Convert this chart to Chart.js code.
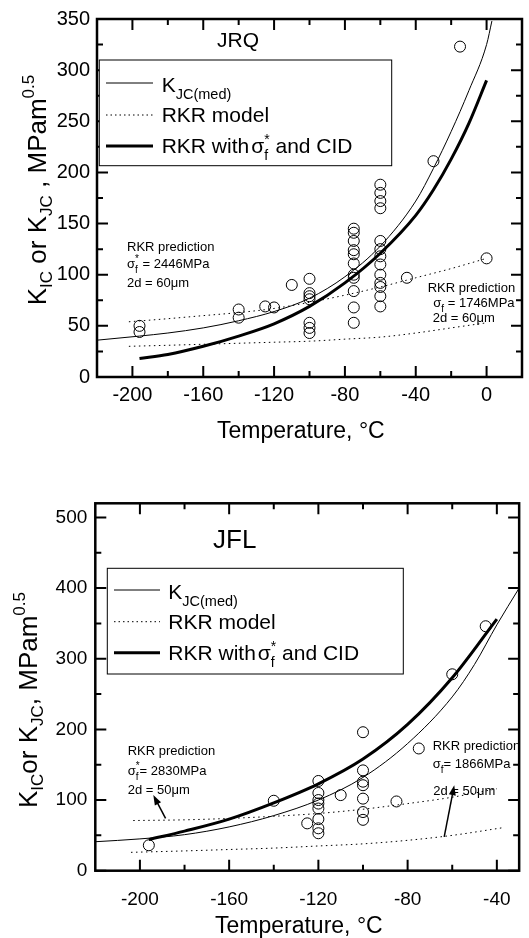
<!DOCTYPE html>
<html>
<head>
<meta charset="utf-8">
<script src="https://cdn.jsdelivr.net/npm/chart.js@4.4.1/dist/chart.umd.min.js"></script>
<style>
body { margin: 0; background: #fff; }
canvas { display: block; }
</style>
</head>
<body>
<canvas id="jrq" width="529" height="469"></canvas>
<canvas id="jfl" width="529" height="469"></canvas>
<script>
const FONT = '"Liberation Sans", Arial, sans-serif';

// JRQ data points
const jrqTemp = [-196, -196, -140, -140, -125, -120, -110,
    -100, -100, -100, -100, -100, -100, -100,
    -75, -75, -75, -75, -75, -75, -75, -75, -75, -75, -75,
    -60, -60, -60, -60, -60, -60, -60, -60, -60, -60, -60, -60, -60,
    -45, -30, -15, 0];
const jrqK = [50, 44, 66, 58, 69, 68, 90,
    96, 82, 79, 76, 53, 48, 43,
    145, 141, 133, 124, 120, 111, 100, 97, 84, 68, 53,
    188, 180, 172, 165, 133, 125, 118, 110, 100, 92, 88, 79, 69,
    97, 211, 323, 116];
// JRQ curves
const jrqMedT = [-220, -196, -180, -160, -140, -120, -100, -80, -60, -40, -30, -20, -10, 0, 3];
const jrqMedK = [36, 40, 43, 48, 55, 64, 77, 98, 128, 172, 204, 240, 280, 325, 348];
const jrqCidT = [-196, -180, -160, -140, -120, -100, -80, -60, -40, -30, -20, -10, 0];
const jrqCidK = [18, 22, 30, 40, 52, 69, 92, 121, 158, 183, 213, 248, 290];
const jrqRkrT = [-202, -180, -160, -140, -120, -100, -80, -60, -40, -20, 0];
const jrqRkrHi = [54, 57, 60, 63, 67, 73, 80, 88, 97, 106, 116];
const jrqRkrLo = [30, 31, 32, 33, 34, 35, 37, 39, 43, 48, 53];
const jrqXTicks = [-200, -160, -120, -80, -40, 0];
const jrqYTicks = [0, 50, 100, 150, 200, 250, 300, 350];

// JFL data points
const jflTemp = [-196, -140, -125,
    -120, -120, -120, -120, -120, -120, -120, -120,
    -110, -100, -100, -100, -100, -100, -100, -100,
    -85, -75, -60, -45];
const jflK = [36, 99, 67,
    127, 110, 100, 95, 88, 73, 60, 53,
    107, 196, 142, 126, 121, 102, 83, 72,
    98, 173, 278, 346];
// JFL curves
const jflMedT = [-220, -200, -180, -160, -140, -120, -100, -80, -60, -50, -40, -30];
const jflMedK = [41, 45, 51, 62, 78, 100, 132, 180, 246, 292, 348, 400];
const jflCidT = [-196, -180, -160, -140, -120, -100, -80, -60, -40];
const jflCidK = [44, 56, 73, 96, 123, 158, 207, 273, 356];
const jflHiT = [-203, -180, -160, -140, -120, -100, -80, -60, -40];
const jflRkrHi = [71, 72, 74, 77, 81, 87, 95, 104, 116];
const jflLoT = [-204, -180, -160, -140, -120, -100, -80, -60, -37];
const jflRkrLo = [26, 28, 30, 32, 35, 38, 43, 50, 61];
const jflXTicks = [-200, -160, -120, -80, -40];
const jflYTicks = [0, 100, 200, 300, 400, 500];

function xy(xs, ys) {
    return xs.map((v, i) => ({ x: v, y: ys[i] }));
}

function lineSet(xs, ys, width, dash) {
    return {
        data: xy(xs, ys), showLine: true, borderColor: '#000', borderWidth: width,
        borderDash: dash || [], pointRadius: 0, cubicInterpolationMode: 'monotone', fill: false
    };
}

function pointSet(xs, ys) {
    return {
        data: xy(xs, ys), showLine: false, pointRadius: 5.5, pointBorderWidth: 1,
        pointBorderColor: '#000', pointBackgroundColor: 'rgba(0,0,0,0)'
    };
}

function drawParts(ctx, x, y, parts, measureOnly) {
    for (const p of parts) {
        ctx.font = p.s + 'px ' + FONT;
        if (p.sup !== undefined || p.sub !== undefined) {
            let w = 0;
            if (p.sup) { if (!measureOnly) ctx.fillText(p.sup, x, y + p.supDy); w = Math.max(w, ctx.measureText(p.sup).width); }
            if (p.sub) { if (!measureOnly) ctx.fillText(p.sub, x, y + p.subDy); w = Math.max(w, ctx.measureText(p.sub).width); }
            x += w;
        } else {
            x += p.dx || 0;
            if (!measureOnly) ctx.fillText(p.t, x, y + (p.dy || 0));
            x += ctx.measureText(p.t).width;
        }
    }
    return x;
}

// frame, inward ticks, legend, labels
const framePlugin = {
    id: 'frame',
    afterDraw(chart, args, o) {
        const ctx = chart.ctx, a = chart.chartArea, xs = chart.scales.x, ys = chart.scales.y;
        ctx.save();
        ctx.strokeStyle = '#000';
        ctx.fillStyle = '#000';
        ctx.setLineDash([]);
        ctx.lineWidth = 2.5;
        ctx.strokeRect(a.left, a.top, a.right - a.left, a.bottom - a.top);

        const minors = (arr, lo, hi) => {
            const st = arr[1] - arr[0], out = [];
            for (let v = arr[0] - st / 2; v < hi - 0.01; v += st) if (v > lo + 0.01) out.push(v);
            return out;
        };
        ctx.lineWidth = 2;
        ctx.beginPath();
        const tickX = (v, len) => {
            const p = xs.getPixelForValue(v);
            ctx.moveTo(p, a.bottom); ctx.lineTo(p, a.bottom - len);
            ctx.moveTo(p, a.top); ctx.lineTo(p, a.top + len);
        };
        const tickY = (v, len) => {
            const p = ys.getPixelForValue(v);
            ctx.moveTo(a.left, p); ctx.lineTo(a.left + len, p);
            ctx.moveTo(a.right, p); ctx.lineTo(a.right - len, p);
        };
        o.xTicks.forEach(v => tickX(v, 11));
        minors(o.xTicks, xs.min, xs.max).forEach(v => tickX(v, 6));
        o.yTicks.forEach(v => tickY(v, 11));
        minors(o.yTicks, ys.min, ys.max).forEach(v => tickY(v, 6));
        ctx.stroke();

        // legend
        const lg = o.legend;
        ctx.fillStyle = '#fff';
        ctx.fillRect(lg.box[0], lg.box[1], lg.box[2], lg.box[3]);
        ctx.lineWidth = 1;
        ctx.strokeRect(lg.box[0], lg.box[1], lg.box[2], lg.box[3]);
        ctx.fillStyle = '#000';
        for (const it of lg.items) {
            ctx.beginPath();
            ctx.lineWidth = it.w;
            ctx.setLineDash(it.dash);
            ctx.moveTo(lg.lineX[0], it.ly);
            ctx.lineTo(lg.lineX[1], it.ly);
            ctx.stroke();
            ctx.setLineDash([]);
            drawParts(ctx, lg.textX, it.ty, it.parts);
        }

        // plain labels
        for (const t of o.texts) drawParts(ctx, t.x, t.y, t.parts);

        // rotated y title
        const yt = o.yTitle;
        ctx.save();
        ctx.translate(yt.x, yt.y);
        ctx.rotate(-Math.PI / 2);
        const w = drawParts(ctx, 0, 0, yt.parts, true);
        drawParts(ctx, -w / 2, 0, yt.parts);
        ctx.restore();

        // arrows
        ctx.lineWidth = 1.5;
        for (const ar of o.arrows || []) {
            const fx = xs.getPixelForValue(ar.from[0]), fy = ys.getPixelForValue(ar.from[1]);
            const tx = xs.getPixelForValue(ar.to[0]), ty = ys.getPixelForValue(ar.to[1]);
            const ang = Math.atan2(ty - fy, tx - fx);
            ctx.beginPath();
            ctx.moveTo(fx, fy);
            ctx.lineTo(tx - 6 * Math.cos(ang), ty - 6 * Math.sin(ang));
            ctx.stroke();
            ctx.beginPath();
            ctx.moveTo(tx, ty);
            ctx.lineTo(tx - 10 * Math.cos(ang) + 3.5 * Math.sin(ang), ty - 10 * Math.sin(ang) - 3.5 * Math.cos(ang));
            ctx.lineTo(tx - 10 * Math.cos(ang) - 3.5 * Math.sin(ang), ty - 10 * Math.sin(ang) + 3.5 * Math.cos(ang));
            ctx.closePath();
            ctx.fill();
        }
        ctx.restore();
    }
};

function legendItems(textY, lineY) {
    return [
        { ly: lineY[0], w: 1, dash: [], ty: textY[0],
          parts: [{ t: 'K', s: 21 }, { t: 'JC(med)', s: 14.5, dy: 7 }] },
        { ly: lineY[1], w: 1, dash: [1.5, 3], ty: textY[1],
          parts: [{ t: 'RKR model', s: 21 }] },
        { ly: lineY[2], w: 3, dash: [], ty: textY[2],
          parts: [{ t: 'RKR with', s: 21 }, { t: 'σ', s: 21, dx: 2 },
                  { sup: '*', sub: 'f', s: 14, supDy: -9, subDy: 7 }, { t: ' and CID', s: 21 }] }
    ];
}

function makeChart(id, cfg) {
    return new Chart(document.getElementById(id), {
        type: 'scatter',
        data: { datasets: cfg.datasets },
        options: {
            responsive: false,
            animation: false,
            devicePixelRatio: 1,
            events: [],
            layout: { padding: cfg.padding },
            plugins: { legend: { display: false }, tooltip: { enabled: false }, frame: cfg.frame },
            scales: {
                x: {
                    type: 'linear', min: cfg.xRange[0], max: cfg.xRange[1],
                    afterBuildTicks: s => { s.ticks = cfg.frame.xTicks.map(v => ({ value: v })); },
                    afterFit: s => { s.height = cfg.xHeight; },
                    grid: { display: false, drawTicks: false },
                    border: { display: false },
                    ticks: { color: '#000', font: { size: cfg.tickSize, family: FONT }, padding: cfg.xPad,
                             maxRotation: 0, autoSkip: false, callback: v => String(v) }
                },
                y: {
                    type: 'linear', min: cfg.yRange[0], max: cfg.yRange[1],
                    afterBuildTicks: s => { s.ticks = cfg.frame.yTicks.map(v => ({ value: v })); },
                    afterFit: s => { s.width = cfg.yWidth; },
                    grid: { display: false, drawTicks: false },
                    border: { display: false },
                    ticks: { color: '#000', font: { size: cfg.tickSize, family: FONT }, padding: cfg.yPad,
                             autoSkip: false, callback: v => String(v) }
                }
            }
        },
        plugins: [framePlugin]
    });
}

makeChart('jrq', {
    datasets: [
        lineSet(jrqRkrT, jrqRkrHi, 1, [1.5, 3.5]),
        lineSet(jrqRkrT, jrqRkrLo, 1, [1.5, 3.5]),
        lineSet(jrqMedT, jrqMedK, 1),
        lineSet(jrqCidT, jrqCidK, 3),
        pointSet(jrqTemp, jrqK)
    ],
    padding: { top: 15, right: 7, left: 0, bottom: 0 },
    xRange: [-220, 20], yRange: [0, 350],
    xHeight: 92, yWidth: 97, tickSize: 20, xPad: 6, yPad: 7,
    frame: {
        xTicks: jrqXTicks, yTicks: jrqYTicks,
        legend: {
            box: [99.3, 60, 292.4, 105.7], lineX: [106, 153], textX: 161.7,
            items: legendItems([92, 122, 153], [83, 115, 146])
        },
        texts: [
            { x: 217, y: 46.7, parts: [{ t: 'JRQ', s: 21 }] },
            { x: 217, y: 438.3, parts: [{ t: 'Temperature, °C', s: 23 }] },
            { x: 127, y: 250.7, parts: [{ t: 'RKR prediction', s: 13 }] },
            { x: 127, y: 268.3, parts: [{ t: 'σ', s: 13 }, { sup: '*', sub: 'f', s: 10, supDy: -6, subDy: 5 }, { t: ' = 2446MPa', s: 13 }] },
            { x: 127, y: 286.7, parts: [{ t: '2d = 60μm', s: 13 }] },
            { x: 427.7, y: 291.7, parts: [{ t: 'RKR prediction', s: 13 }] },
            { x: 433.3, y: 306.7, parts: [{ t: 'σ', s: 13 }, { sub: 'f', s: 10, subDy: 5 }, { t: ' = 1746MPa', s: 13 }] },
            { x: 432.7, y: 321.7, parts: [{ t: '2d = 60μm', s: 13 }] }
        ],
        yTitle: {
            x: 46, y: 190,
            parts: [{ t: 'K', s: 26 }, { t: 'IC', s: 17, dy: 6 }, { t: ' or K', s: 26 }, { t: 'JC', s: 17, dy: 6 },
                    { t: ' , MPam', s: 26 }, { t: '0.5', s: 17, dy: -12 }]
        }
    }
});

makeChart('jfl', {
    datasets: [
        lineSet(jflHiT, jflRkrHi, 1, [1.5, 3.5]),
        lineSet(jflLoT, jflRkrLo, 1, [1.5, 3.5]),
        lineSet(jflMedT, jflMedK, 1),
        lineSet(jflCidT, jflCidK, 3),
        pointSet(jflTemp, jflK)
    ],
    padding: { top: 34.3, right: 8, left: 0, bottom: 0 },
    xRange: [-220, -30], yRange: [0, 520],
    xHeight: 67.3, yWidth: 95.3, tickSize: 19, xPad: 18, yPad: 8,
    frame: {
        xTicks: jflXTicks, yTicks: jflYTicks,
        legend: {
            box: [107.3, 99.3, 296, 105.7], lineX: [114, 160], textX: 168.3,
            items: legendItems([130, 159.7, 190.7], [121, 152.7, 183.7])
        },
        texts: [
            { x: 213, y: 79.3, parts: [{ t: 'JFL', s: 26 }] },
            { x: 215, y: 464.3, parts: [{ t: 'Temperature, °C', s: 23 }] },
            { x: 127.7, y: 286, parts: [{ t: 'RKR prediction', s: 13 }] },
            { x: 127.7, y: 306, parts: [{ t: 'σ', s: 13 }, { sup: '*', sub: 'f', s: 10, supDy: -6, subDy: 5 }, { t: '= 2830MPa', s: 13 }] },
            { x: 127.7, y: 325, parts: [{ t: '2d = 50μm', s: 13 }] },
            { x: 432.7, y: 281, parts: [{ t: 'RKR prediction', s: 13 }] },
            { x: 432.7, y: 298.5, parts: [{ t: 'σ', s: 13 }, { sub: 'f', s: 10, subDy: 5 }, { t: '= 1866MPa', s: 13 }] },
            { x: 433.3, y: 326, parts: [{ t: '2d = 50μm', s: 13 }] }
        ],
        yTitle: {
            x: 37, y: 231,
            parts: [{ t: 'K', s: 26 }, { t: 'IC', s: 17, dy: 6 }, { t: 'or K', s: 26 }, { t: 'JC', s: 17, dy: 6 },
                    { t: ', MPam', s: 26 }, { t: '0.5', s: 17, dy: -12 }]
        },
        arrows: [
            { from: [-188.5, 74], to: [-194, 107] },
            { from: [-63.6, 48], to: [-59.1, 121] }
        ]
    }
});
</script>
</body>
</html>
